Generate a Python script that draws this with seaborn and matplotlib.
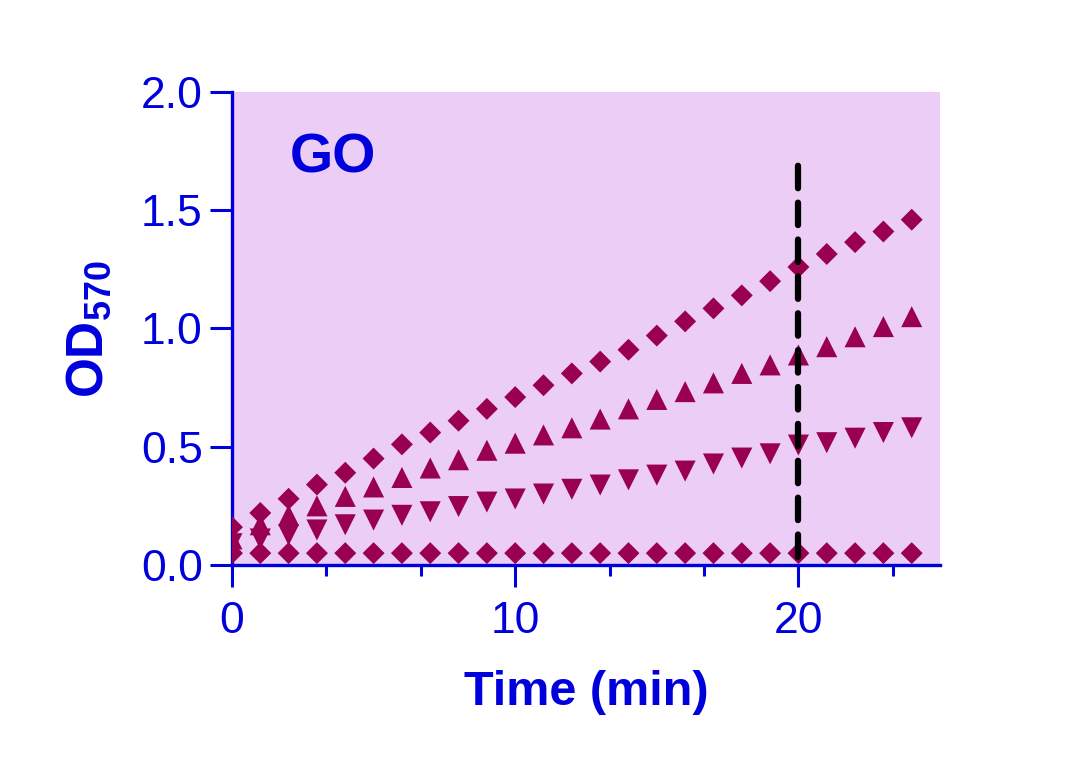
import matplotlib
matplotlib.use("Agg")
import matplotlib.pyplot as plt
from matplotlib.ticker import MultipleLocator
import seaborn as sns
import pandas as pd
import numpy as np

# time points (min)
time = list(range(25))

# OD570 readings for the four standards
high = [0.16, 0.22, 0.28, 0.34, 0.39, 0.45, 0.51, 0.56, 0.61, 0.66, 0.71, 0.76, 0.81,
        0.86, 0.91, 0.97, 1.03, 1.085, 1.14, 1.20, 1.26, 1.315, 1.365, 1.41, 1.46]
mid = [0.11, 0.17, 0.21, 0.25, 0.29, 0.33, 0.37, 0.41, 0.445, 0.485, 0.515, 0.55, 0.58,
       0.617, 0.66, 0.70, 0.733, 0.77, 0.81, 0.846, 0.888, 0.923, 0.965, 1.008, 1.05]
low = [0.09, 0.11, 0.127, 0.148, 0.17, 0.19, 0.21, 0.225, 0.247, 0.266, 0.279, 0.30, 0.32,
       0.338, 0.36, 0.38, 0.397, 0.427, 0.452, 0.47, 0.507, 0.517, 0.536, 0.56, 0.58]
blank = [0.05] * 25

series_names = ["high", "mid", "low", "blank"]
series_markers = {"high": "D", "mid": "^", "low": "v", "blank": "D"}
cutoff_time = 20
cutoff_y = [0.035, 1.70]

blue = "#0000DD"
dot_color = "#990050"
bg = "#EBCDF5"

df = pd.DataFrame({
    "time": time * 4,
    "od": high + mid + low + blank,
    "series": [s for s in series_names for _ in time],
})

sns.set_style("white")
plt.rcParams["font.family"] = ["Liberation Sans", "DejaVu Sans"]
plt.rcParams["mathtext.fontset"] = "custom"
plt.rcParams["mathtext.bf"] = "Liberation Sans:bold"
plt.rcParams["mathtext.rm"] = "Liberation Sans"

fig = plt.figure(figsize=(10.86, 7.69), dpi=100)
ax = fig.add_axes([0.2136, 0.2653, 0.652, 0.6151])
ax.set_facecolor(bg)

for name in series_names:
    sub = df[df["series"] == name]
    m = series_markers[name]
    size = 125 if m == "D" else 230
    sns.scatterplot(data=sub, x="time", y="od", marker=m, color=dot_color,
                    s=size, edgecolor="none", ax=ax, legend=False, zorder=3)

ax.plot([cutoff_time, cutoff_time], cutoff_y, color="black", lw=4.5,
        linestyle=(0, (3.6, 2.3)), dash_capstyle="round", zorder=4)

ax.set_xlim(0, 25)
ax.set_ylim(0, 2.0)
ax.xaxis.set_major_locator(MultipleLocator(10))
ax.xaxis.set_minor_locator(MultipleLocator(10 / 3))
ax.yaxis.set_major_locator(MultipleLocator(0.5))
ax.set_yticklabels([f"{v:.1f}" for v in ax.get_yticks()])

for side in ["top", "right"]:
    ax.spines[side].set_visible(False)
for side in ["left", "bottom"]:
    ax.spines[side].set_color(blue)
    ax.spines[side].set_linewidth(2.4)

ax.tick_params(axis="both", which="major", direction="out", length=16, width=2.2,
               color=blue, labelcolor=blue, labelsize=32, pad=5,
               left=True, bottom=True)
ax.tick_params(axis="x", which="minor", direction="out", length=8, width=2.2,
               color=blue, bottom=True)
ax.tick_params(axis="x", which="major", pad=10)

ax.set_xlabel("Time (min)", fontsize=35, fontweight="bold", color=blue, labelpad=20)
ax.set_ylabel(r"$\mathbf{OD}_{\mathbf{570}}$", fontsize=37, color=blue, labelpad=20)

ax.text(0.082, 0.86, "GO", transform=ax.transAxes, fontsize=40, fontweight="bold",
        color=blue, va="center", ha="left")

fig.savefig("out.png", dpi=100)
